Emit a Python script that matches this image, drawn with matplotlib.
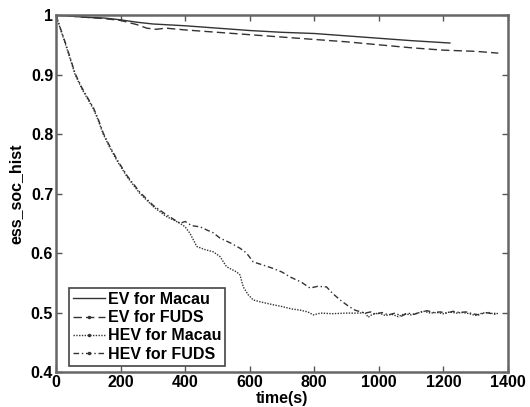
import numpy as np
import matplotlib.pyplot as plt

plt.rcParams['font.family'] = ['Liberation Sans Narrow', 'Liberation Sans', 'DejaVu Sans']
plt.rcParams['font.weight'] = 'bold'

# EV for Macau
t_ev_macau = [0, 50, 100, 150, 200, 250, 300, 400, 500, 600, 700, 800, 900, 1000, 1100, 1220]
soc_ev_macau = [1.0, 0.998, 0.996, 0.995, 0.992, 0.988, 0.985, 0.982, 0.978, 0.974, 0.971,
                0.969, 0.965, 0.961, 0.957, 0.953]

# EV for FUDS
t_ev_fuds = [0, 50, 100, 150, 200, 250, 281, 310, 340, 400, 500, 600, 700, 800, 900, 1000,
             1100, 1200, 1300, 1370]
soc_ev_fuds = [1.0, 0.998, 0.996, 0.994, 0.991, 0.984, 0.978, 0.976, 0.978, 0.975, 0.971,
               0.967, 0.963, 0.959, 0.955, 0.950, 0.945, 0.941, 0.939, 0.936]

# HEV for Macau
t_hev_macau = [0, 14, 28, 44, 59, 80, 100, 116, 130, 146, 166, 188, 220, 260, 301, 340,
               384, 400, 415, 436, 460, 487, 508, 528, 560, 570, 580, 595, 611, 640, 673,
               700, 730, 756, 780, 797, 820, 855, 900, 940, 957, 967, 980, 1000, 1020, 1040,
               1060, 1080, 1100, 1120, 1140, 1160, 1180, 1200, 1220, 1240, 1260, 1280, 1300,
               1320, 1340, 1360, 1370]
soc_hev_macau = [1.0, 0.976, 0.953, 0.926, 0.900, 0.876, 0.857, 0.842, 0.824, 0.800, 0.778,
                 0.756, 0.728, 0.700, 0.678, 0.662, 0.650, 0.644, 0.633, 0.611, 0.606, 0.602,
                 0.594, 0.577, 0.568, 0.563, 0.543, 0.530, 0.521, 0.517, 0.513, 0.510, 0.506,
                 0.504, 0.501, 0.496, 0.499, 0.498, 0.499, 0.499, 0.500, 0.492, 0.497, 0.499,
                 0.495, 0.497, 0.493, 0.498, 0.496, 0.499, 0.502, 0.499, 0.500, 0.498, 0.501,
                 0.499, 0.500, 0.498, 0.495, 0.499, 0.500, 0.497, 0.499]

# HEV for FUDS
t_hev_fuds = [0, 14, 28, 44, 59, 80, 100, 116, 130, 146, 166, 188, 220, 260, 301, 340,
              384, 400, 420, 446, 470, 487, 508, 540, 570, 590, 611, 640, 673, 700, 724,
              760, 787, 810, 838, 855, 880, 905, 926, 957, 975, 990, 1010, 1030, 1050, 1070,
              1090, 1110, 1130, 1150, 1170, 1190, 1210, 1230, 1250, 1270, 1290, 1310, 1330,
              1350, 1366]
soc_hev_fuds = [1.0, 0.977, 0.955, 0.928, 0.902, 0.878, 0.859, 0.844, 0.826, 0.802, 0.780,
                0.758, 0.730, 0.702, 0.680, 0.665, 0.650, 0.653, 0.646, 0.644, 0.638, 0.634,
                0.625, 0.617, 0.608, 0.600, 0.585, 0.580, 0.574, 0.568, 0.560, 0.551, 0.541,
                0.544, 0.543, 0.533, 0.521, 0.511, 0.504, 0.499, 0.501, 0.497, 0.500, 0.496,
                0.499, 0.494, 0.499, 0.497, 0.501, 0.503, 0.500, 0.501, 0.499, 0.502, 0.500,
                0.501, 0.498, 0.496, 0.500, 0.498, 0.499]

line_color = '#333333'
fs = 11.5

fig = plt.figure(figsize=(5.3, 4.07), dpi=100)
ax = fig.add_axes([0.1057, 0.086, 0.8528, 0.877])

ax.plot(t_ev_macau, soc_ev_macau, color=line_color, linewidth=1.0, linestyle='-',
        label='EV for Macau')
ax.plot(t_ev_fuds, soc_ev_fuds, color=line_color, linewidth=1.0, linestyle=(0, (6, 3)),
        marker='.', markersize=3, markevery=10**6, label='EV for FUDS')
ax.plot(t_hev_macau, soc_hev_macau, color=line_color, linewidth=1.0, linestyle=(0, (1, 1)),
        marker='.', markersize=3, markevery=10**6, label='HEV for Macau')
ax.plot(t_hev_fuds, soc_hev_fuds, color=line_color, linewidth=1.0, linestyle=(0, (4, 2, 1, 2)),
        marker='.', markersize=3, markevery=10**6, label='HEV for FUDS')

ax.set_xlim(0, 1400)
ax.set_ylim(0.4, 1.0)
ax.set_xticks([0, 200, 400, 600, 800, 1000, 1200, 1400])
ax.set_yticks([0.4, 0.5, 0.6, 0.7, 0.8, 0.9, 1.0])
ax.set_yticklabels(['0.4', '0.5', '0.6', '0.7', '0.8', '0.9', '1'])
ax.tick_params(direction='in', top=True, right=True, length=4, width=1,
               color='#555555', labelsize=fs, pad=2)
for s in ax.spines.values():
    s.set_color('#666666')
    s.set_linewidth(1.8)

ax.set_xlabel('time(s)', fontsize=fs, fontweight='bold', labelpad=1)
ax.set_ylabel('ess_soc_hist', fontsize=fs, fontweight='bold', labelpad=5)

leg = ax.legend(loc='lower left', bbox_to_anchor=(0.028, 0.018), fontsize=fs,
                fancybox=False, framealpha=1, edgecolor='#444444', labelspacing=0.2,
                handlelength=2.0, handletextpad=0.2, borderpad=0.25, borderaxespad=0)
leg.get_frame().set_linewidth(1.2)

fig.savefig('out.png', dpi=100)
